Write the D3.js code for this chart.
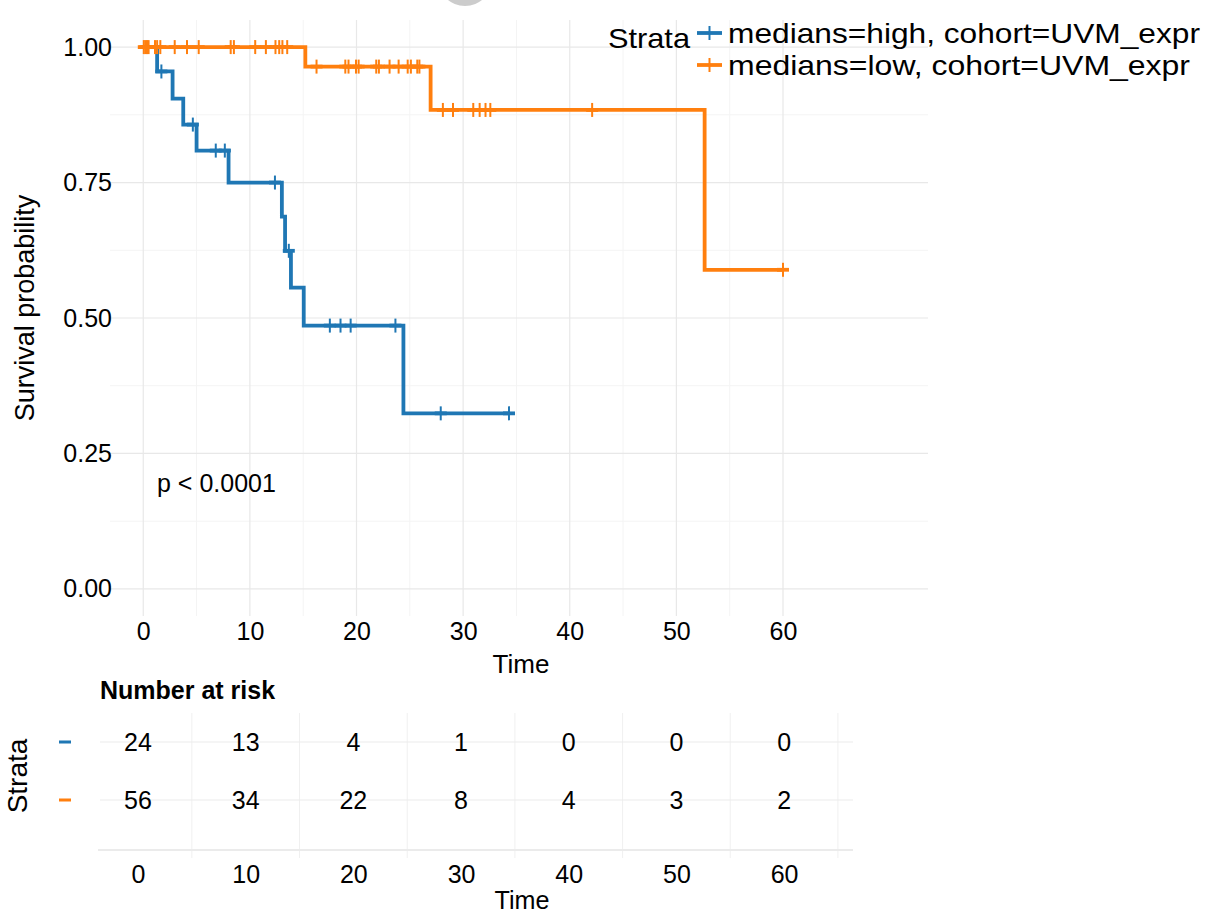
<!DOCTYPE html>
<html><head><meta charset="utf-8">
<script src="https://cdn.jsdelivr.net/npm/d3@7"></script>
<style>
body{margin:0;background:#fff;}
svg{display:block;font-family:"Liberation Sans",Arial,sans-serif;}
</style></head>
<body><svg id="c" width="1216" height="915"></svg>
<script>
// ---- data ----
const strata = ["medians=high, cohort=UVM_expr", "medians=low, cohort=UVM_expr"];
const colors = ["#1f77b4", "#ff7f0e"];
const highEventTimes = [1.3, 2.75, 3.75, 5.0, 8.0, 13.0, 13.3, 13.85, 15.05, 24.4];
const highSurv = [0.955, 0.905, 0.857, 0.809, 0.75, 0.687, 0.624, 0.556, 0.486, 0.324];
const highEnd = 34.3;
const highCensor = [1.7, 4.65, 6.8, 7.65, 12.35, 13.65, 17.5, 18.5, 19.45, 23.65, 27.9, 34.3];
const lowEventTimes = [15.2, 26.95, 52.65];
const lowSurv = [0.964, 0.884, 0.589];
const lowEnd = 60;
const lowCensor = [0.05, 0.2, 0.35, 0.5, 1.1, 1.3, 1.6, 2.95, 4.1, 5.2, 8.2, 8.5, 10.5, 11.5, 12.4, 12.75, 13.05, 13.5,
  16.25, 18.95, 19.25, 19.95, 20.2, 21.85, 22.1, 23.1, 23.95, 24.8, 25.1, 25.7, 25.9,
  28.1, 29.05, 30.95, 31.55, 32.1, 32.55, 42.1, 60];
const xTicks = [0, 10, 20, 30, 40, 50, 60];
const yTicks = [0, 0.25, 0.5, 0.75, 1.0];
const yTickLabels = ["0.00", "0.25", "0.50", "0.75", "1.00"];
const riskTimes = [0, 10, 20, 30, 40, 50, 60];
const riskHigh = [24, 13, 4, 1, 0, 0, 0];
const riskLow = [56, 34, 22, 8, 4, 3, 2];
const pLabel = "p < 0.0001";

// ---- layout ----
const svg = d3.select("#c");
const FF = "Liberation Sans, Arial, sans-serif";
const P = {l: 110, r: 928, t: 20, b: 616};
const x = d3.scaleLinear().domain([-3.12, 73.6]).range([P.l, P.r]);
const y = d3.scaleLinear().domain([-0.05, 1.05]).range([P.b, P.t]);

// faint circle artifact at top
svg.append("circle").attr("cx", 465).attr("cy", -21).attr("r", 27).attr("fill", "#cccccc");

// grid
const g = svg.append("g");
const minorY = [0.125, 0.375, 0.625, 0.875];
const minorX = [5, 15, 25, 35, 45, 55];
g.selectAll(".my").data(minorY).join("line").attr("x1", P.l).attr("x2", P.r)
  .attr("y1", d => y(d)).attr("y2", d => y(d)).attr("stroke", "#f4f4f4").attr("stroke-width", 1);
g.selectAll(".mx").data(minorX).join("line").attr("y1", P.t).attr("y2", P.b)
  .attr("x1", d => x(d)).attr("x2", d => x(d)).attr("stroke", "#f4f4f4").attr("stroke-width", 1);
g.selectAll(".Y").data(yTicks).join("line").attr("x1", P.l).attr("x2", P.r)
  .attr("y1", d => y(d)).attr("y2", d => y(d)).attr("stroke", "#e8e8e8").attr("stroke-width", 1.2);
g.selectAll(".X").data(xTicks).join("line").attr("y1", P.t).attr("y2", P.b)
  .attr("x1", d => x(d)).attr("x2", d => x(d)).attr("stroke", "#e8e8e8").attr("stroke-width", 1.2);

// axes (labels only)
const fs = 25;
const xa = svg.append("g").attr("transform", `translate(0,${P.b})`)
  .call(d3.axisBottom(x).tickValues(xTicks).tickSize(0).tickPadding(6).tickFormat(d3.format("d")));
xa.select(".domain").remove();
xa.selectAll("text").attr("font-size", fs).attr("fill", "#000").attr("font-family", FF);
const ya = svg.append("g").attr("transform", `translate(${P.l},0)`)
  .call(d3.axisLeft(y).tickValues(yTicks).tickSize(0).tickPadding(-2).tickFormat((d, i) => yTickLabels[i]));
ya.select(".domain").remove();
ya.selectAll("text").attr("font-size", fs).attr("fill", "#000").attr("font-family", FF);

svg.append("text").attr("x", (P.l + P.r) / 2 + 2).attr("y", 673).attr("text-anchor", "middle")
  .attr("font-size", 26).text("Time");
svg.append("text").attr("transform", "translate(34,308) rotate(-90)").attr("text-anchor", "middle")
  .attr("font-size", 27).text("Survival probability");

// curves
function stepPts(times, surv, end) {
  const pts = [[0, 1]];
  let s = 1;
  times.forEach((t, i) => { pts.push([t, s]); s = surv[i]; pts.push([t, s]); });
  pts.push([end, s]);
  return pts;
}
function survAt(times, surv, t) {
  let s = 1;
  times.forEach((tt, i) => { if (tt <= t) s = surv[i]; });
  return s;
}
const series = [
  {times: highEventTimes, surv: highSurv, end: highEnd, cens: highCensor, color: colors[0]},
  {times: lowEventTimes, surv: lowSurv, end: lowEnd, cens: lowCensor, color: colors[1]}
];
const line = d3.line().x(d => x(d[0])).y(d => y(d[1]));
series.forEach(s => {
  svg.append("path").attr("d", line(stepPts(s.times, s.surv, s.end)))
    .attr("fill", "none").attr("stroke", s.color).attr("stroke-width", 3.8)
    .attr("stroke-linejoin", "miter");
  const cg = svg.append("g");
  s.cens.forEach(t => {
    const cx = x(t), cy = y(survAt(s.times, s.surv, t));
    cg.append("line").attr("x1", cx).attr("x2", cx).attr("y1", cy - 7).attr("y2", cy + 7)
      .attr("stroke", s.color).attr("stroke-width", 2);
    cg.append("line").attr("x1", cx - 6).attr("x2", cx + 6).attr("y1", cy).attr("y2", cy)
      .attr("stroke", s.color).attr("stroke-width", 3.8);
  });
});

// p value
svg.append("text").attr("x", 157).attr("y", 492).attr("font-size", 25).text(pLabel);

// legend
svg.append("text").attr("x", 608).attr("y", 48).attr("font-size", 28.5)
  .attr("textLength", 82).attr("lengthAdjust", "spacingAndGlyphs").text("Strata");
const legendW = [472, 462];
strata.forEach((name, i) => {
  const ly = 33 + i * 32;
  svg.append("line").attr("x1", 697).attr("x2", 722).attr("y1", ly).attr("y2", ly)
    .attr("stroke", colors[i]).attr("stroke-width", 3.8);
  svg.append("line").attr("x1", 709.5).attr("x2", 709.5).attr("y1", ly - 7).attr("y2", ly + 7)
    .attr("stroke", colors[i]).attr("stroke-width", 2);
  svg.append("text").attr("x", 728).attr("y", ly + 10).attr("font-size", 28.5)
    .attr("textLength", legendW[i]).attr("lengthAdjust", "spacingAndGlyphs").text(name);
});

// risk table
const R = {l: 100, r: 853, t: 713, b: 858};
const rx = d3.scaleLinear().domain([-3.53, 66.4]).range([R.l, R.r]);
const rowY = [742, 800];
const rg = svg.append("g");
rg.selectAll(".rv").data([5, 15, 25, 35, 45, 55, 65]).join("line")
  .attr("x1", d => rx(d)).attr("x2", d => rx(d)).attr("y1", R.t).attr("y2", R.b)
  .attr("stroke", "#f0f0f0").attr("stroke-width", 1);
rg.selectAll(".rh").data(rowY).join("line")
  .attr("x1", R.l).attr("x2", R.r).attr("y1", d => d).attr("y2", d => d)
  .attr("stroke", "#ebebeb").attr("stroke-width", 1.2);
rg.append("line").attr("x1", R.l - 2).attr("x2", R.r).attr("y1", 850).attr("y2", 850)
  .attr("stroke", "#ebebeb").attr("stroke-width", 2.2);

[riskHigh, riskLow].forEach((vals, i) => {
  svg.append("g").selectAll("text").data(vals).join("text")
    .attr("x", (d, j) => rx(riskTimes[j])).attr("y", rowY[i] + 9)
    .attr("text-anchor", "middle").attr("font-size", 25).text(d => d);
  svg.append("rect").attr("x", 59).attr("y", rowY[i] - 1.5).attr("width", 12).attr("height", 3).attr("fill", colors[i]);
});
svg.append("text").attr("x", 100).attr("y", 699).attr("font-size", 25).attr("font-weight", "bold").text("Number at risk");
svg.append("text").attr("transform", "translate(27,776) rotate(-90)").attr("text-anchor", "middle")
  .attr("font-size", 28).text("Strata");
const rxa = svg.append("g").attr("transform", "translate(0,860)")
  .call(d3.axisBottom(rx).tickValues(riskTimes).tickSize(0).tickPadding(5).tickFormat(d3.format("d")));
rxa.select(".domain").remove();
rxa.selectAll("text").attr("font-size", 25).attr("fill", "#000").attr("font-family", FF);
svg.append("text").attr("x", 522).attr("y", 909).attr("text-anchor", "middle").attr("font-size", 25)
  .attr("textLength", 55).attr("lengthAdjust", "spacingAndGlyphs").text("Time");
</script></body></html>
